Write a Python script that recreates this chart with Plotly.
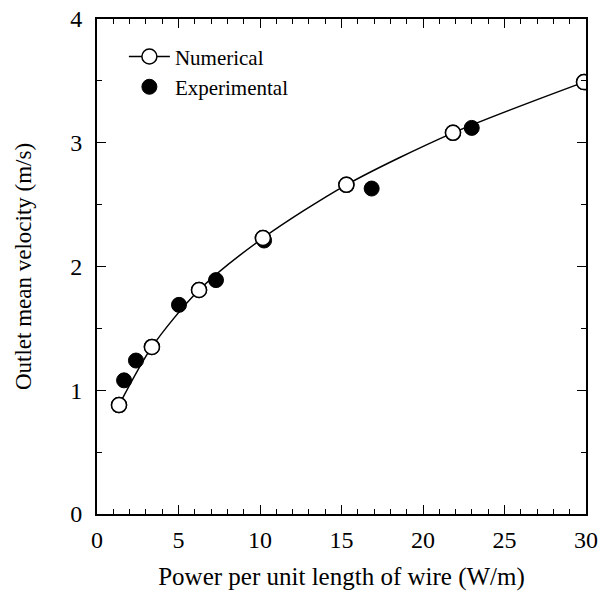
import plotly.graph_objects as go

num_x = [1.35, 3.37, 6.26, 10.18, 15.3, 21.84, 29.88]
num_y = [0.88, 1.35, 1.81, 2.23, 2.66, 3.08, 3.49]
exp_x = [1.66, 2.39, 5.03, 7.3, 10.25, 16.85, 22.99]
exp_y = [1.08, 1.24, 1.69, 1.89, 2.21, 2.63, 3.12]

x_ticks = [0, 5, 10, 15, 20, 25, 30]
y_ticks = [0, 1, 2, 3, 4]

FONT = "Liberation Serif, Times New Roman, serif"

fig = go.Figure()
fig.add_trace(go.Scatter(
    x=num_x, y=num_y, mode="lines+markers", name="Numerical",
    line=dict(color="black", width=1.5, shape="spline", smoothing=0.8),
    marker=dict(symbol="circle", size=15, color="white", line=dict(color="black", width=1.5)),
))
fig.add_trace(go.Scatter(
    x=exp_x, y=exp_y, mode="markers", name="Experimental",
    marker=dict(symbol="circle", size=15, color="black", line=dict(color="black", width=1)),
))
# redraw numerical markers on top
fig.add_trace(go.Scatter(
    x=num_x, y=num_y, mode="markers", showlegend=False, hoverinfo="skip",
    marker=dict(symbol="circle", size=15, color="white", line=dict(color="black", width=1.5)),
))

axis_common = dict(
    showline=True, linecolor="black", linewidth=2, mirror="ticks",
    ticks="inside", ticklen=9, tickwidth=1.2, tickcolor="black",
    showgrid=False, zeroline=False, automargin=False,
    tickfont=dict(family=FONT, size=24, color="black"),
)

fig.update_xaxes(
    range=[0, 30], tickvals=x_ticks, ticktext=[str(v) for v in x_ticks],
    ticklabelstandoff=3,
    minor=dict(ticks="inside", ticklen=5, tickwidth=1, tickcolor="black", dtick=1, showgrid=False),
    title=dict(text="Power per unit length of wire (W/m)", font=dict(family=FONT, size=25, color="black"), standoff=16),
    **axis_common,
)
fig.update_yaxes(
    range=[0, 4], tickvals=y_ticks, ticktext=[str(v) for v in y_ticks],
    ticklabelstandoff=8,
    minor=dict(ticks="inside", ticklen=5, tickwidth=1, tickcolor="black", dtick=0.5, showgrid=False),
    title=dict(text="Outlet mean velocity (m/s)", font=dict(family=FONT, size=23, color="black"), standoff=32),
    **axis_common,
)

fig.update_layout(
    width=603, height=595,
    margin=dict(l=97, r=17, t=19, b=81),
    paper_bgcolor="white", plot_bgcolor="white",
    showlegend=True,
    legend=dict(x=0.055, y=0.965, xanchor="left", yanchor="top",
                font=dict(family=FONT, size=21, color="black"),
                bgcolor="rgba(0,0,0,0)", tracegroupgap=0, itemwidth=41),
)

fig.write_html("out.html", config={"displayModeBar": False},
               post_script="document.body.style.margin='0';document.body.style.overflow='hidden';")
